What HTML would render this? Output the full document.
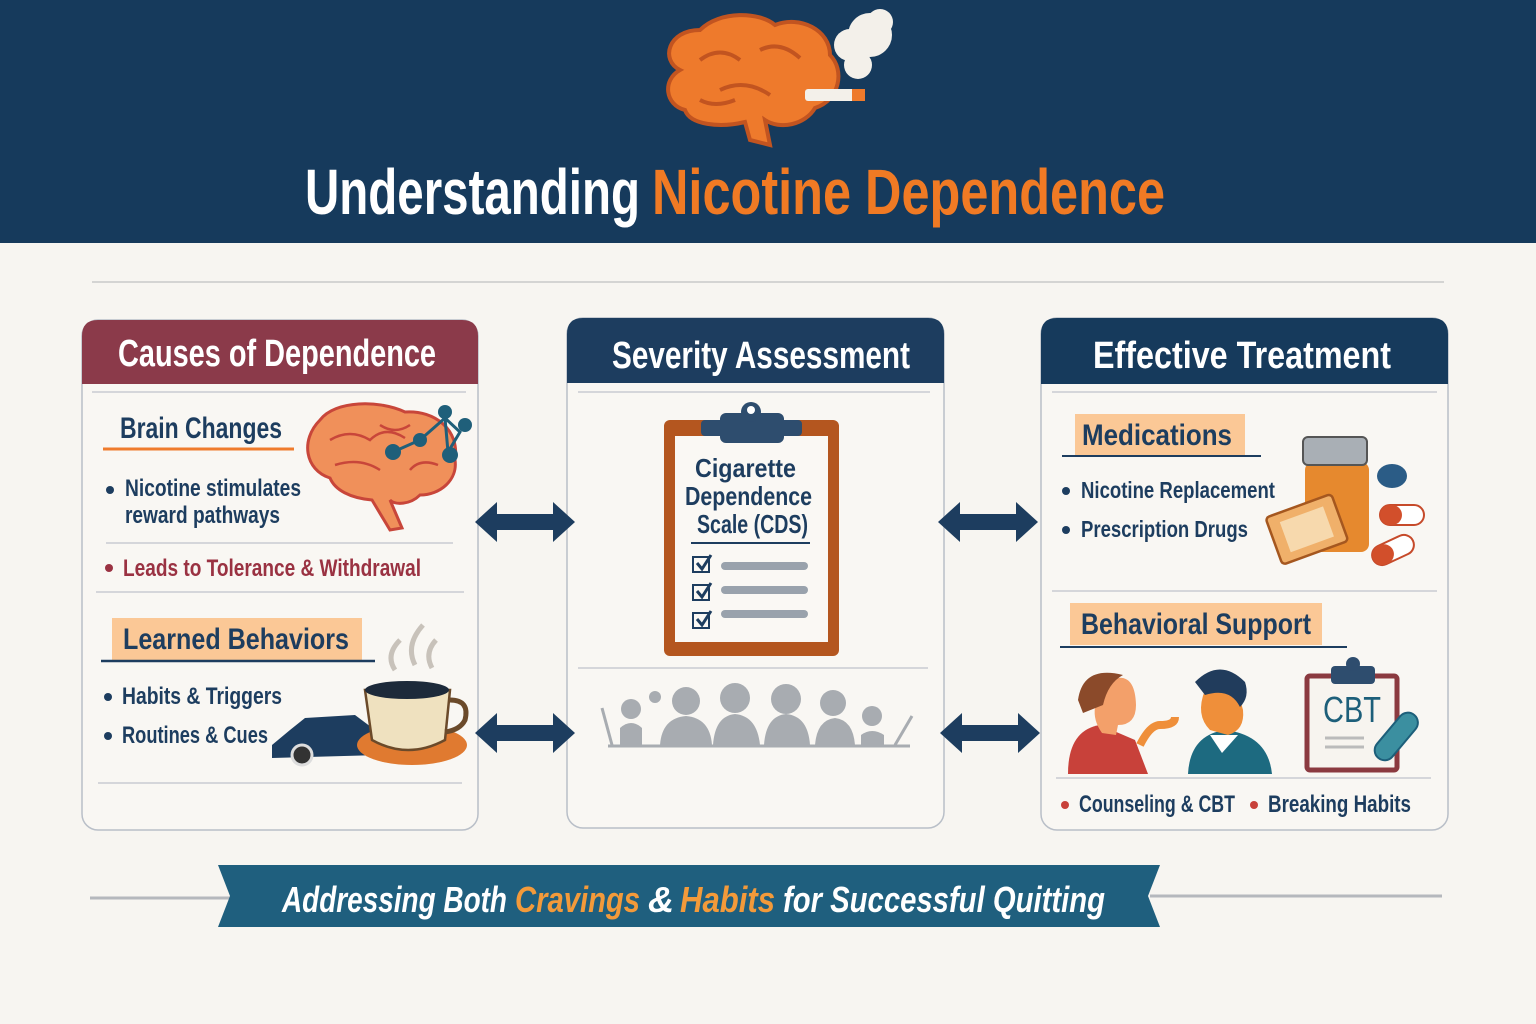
<!DOCTYPE html>
<html><head><meta charset="utf-8"><style>
html,body{margin:0;padding:0;background:#f7f5f1}
svg{display:block}
text{font-family:"Liberation Sans Narrow","Liberation Sans",sans-serif;font-weight:bold}
</style></head><body>
<svg width="1536" height="1024" viewBox="0 0 1536 1024" xmlns="http://www.w3.org/2000/svg">
<defs>
<path id="arr" d="M0 0 L22 -20 L22 -8 L78 -8 L78 -20 L100 0 L78 20 L78 8 L22 8 L22 20 Z" fill="#1d3d5f"/>
</defs>
<rect width="1536" height="1024" fill="#f7f5f1"/>
<rect width="1536" height="243" fill="#163a5c"/>
<!-- brain logo -->
<g>
<path d="M680 70 C660 60 668 30 700 30 C720 10 760 12 775 25 C800 15 830 30 830 55 C845 70 840 100 815 108 C805 125 780 130 765 120 L770 145 L750 140 L745 122 C720 128 690 125 685 110 C665 105 662 80 680 70 Z" fill="#ee7a2c" stroke="#c25420" stroke-width="4"/>
<path d="M700 60 q20 -15 40 0 M720 90 q25 -12 50 5 M760 50 q20 -10 40 8 M700 100 q15 8 35 0" stroke="#c25420" stroke-width="4" fill="none"/>
<rect x="805" y="89" width="60" height="12" rx="3" fill="#f3f0ea"/>
<rect x="852" y="89" width="13" height="12" fill="#ee7a2c"/>
<circle cx="858" cy="65" r="14" fill="#f3f0ea"/><circle cx="870" cy="35" r="22" fill="#f3f0ea"/><circle cx="850" cy="45" r="16" fill="#f3f0ea"/><circle cx="880" cy="22" r="13" fill="#f3f0ea"/>
</g>
<text x="305" y="214" font-size="64" fill="#fff" textLength="335" lengthAdjust="spacingAndGlyphs">Understanding</text>
<text x="652" y="214" font-size="64" fill="#f07a24" textLength="513" lengthAdjust="spacingAndGlyphs">Nicotine Dependence</text>
<line x1="92" y1="282" x2="1444" y2="282" stroke="#c9c9c9" stroke-width="1.5"/>

<!-- Left panel -->
<rect x="82" y="320" width="396" height="510" rx="16" fill="#f9f7f3" stroke="#b9bfc8" stroke-width="1.5"/>
<path d="M82 384 V336 Q82 320 98 320 H462 Q478 320 478 336 V384 Z" fill="#8b3a4a"/>
<text x="118" y="366" font-size="38" fill="#fff" textLength="318" lengthAdjust="spacingAndGlyphs">Causes of Dependence</text>
<line x1="92" y1="392" x2="466" y2="392" stroke="#c9ccd2" stroke-width="1.5"/>
<text x="120" y="438" font-size="30" fill="#1d3d5f" textLength="162" lengthAdjust="spacingAndGlyphs">Brain Changes</text>
<line x1="103" y1="449" x2="294" y2="449" stroke="#ef7b2c" stroke-width="3"/>
<g>
<path d="M320 420 C335 400 380 400 405 412 C435 410 460 430 455 460 C458 480 440 495 420 495 C410 505 395 505 390 500 L402 528 L390 530 L372 500 C350 498 335 490 330 478 C305 470 300 440 320 420 Z" fill="#f0905a" stroke="#c8463a" stroke-width="3"/>
<path d="M330 440 q20 -12 40 0 q15 -15 35 -2 M335 465 q25 -8 45 5 M380 425 q15 10 30 0 M410 470 q10 -12 28 -5" stroke="#c8463a" stroke-width="2.5" fill="none"/>
<path d="M393 452 L420 440 L445 418 L460 432 L448 452 L445 418" stroke="#1f5f7a" stroke-width="3" fill="none"/>
<circle cx="393" cy="452" r="8" fill="#1f5f7a"/><circle cx="420" cy="440" r="7" fill="#1f5f7a"/><circle cx="445" cy="412" r="7" fill="#1f5f7a"/><circle cx="465" cy="425" r="7" fill="#1f5f7a"/><circle cx="450" cy="455" r="8" fill="#1f5f7a"/>
</g>
<circle cx="110" cy="490" r="4" fill="#1d3d5f"/>
<text x="125" y="496" font-size="24" fill="#1d3d5f" textLength="176" lengthAdjust="spacingAndGlyphs">Nicotine stimulates</text>
<text x="125" y="523" font-size="24" fill="#1d3d5f" textLength="155" lengthAdjust="spacingAndGlyphs">reward pathways</text>
<line x1="106" y1="543" x2="453" y2="543" stroke="#c9ccd2" stroke-width="1.5"/>
<circle cx="109" cy="568" r="4" fill="#9a3242"/>
<text x="123" y="576" font-size="24" fill="#9a3242" textLength="298" lengthAdjust="spacingAndGlyphs">Leads to Tolerance &amp; Withdrawal</text>
<line x1="96" y1="592" x2="464" y2="592" stroke="#c9ccd2" stroke-width="1.5"/>
<rect x="112" y="618" width="250" height="42" fill="#fbc896"/>
<text x="123" y="649" font-size="30" fill="#1d3d5f" textLength="226" lengthAdjust="spacingAndGlyphs">Learned Behaviors</text>
<line x1="101" y1="661" x2="375" y2="661" stroke="#1d3d5f" stroke-width="2.5"/>
<circle cx="108" cy="697" r="4" fill="#1d3d5f"/>
<text x="122" y="704" font-size="24" fill="#1d3d5f" textLength="160" lengthAdjust="spacingAndGlyphs">Habits &amp; Triggers</text>
<circle cx="108" cy="736" r="4" fill="#1d3d5f"/>
<text x="122" y="743" font-size="24" fill="#1d3d5f" textLength="146" lengthAdjust="spacingAndGlyphs">Routines &amp; Cues</text>
<g>
<path d="M272 745 L290 730 L305 718 L355 715 L375 730 L380 755 L272 758 Z" fill="#1d3d5f"/>
<circle cx="302" cy="755" r="10" fill="#333" stroke="#ddd" stroke-width="3"/>
<ellipse cx="412" cy="745" rx="55" ry="20" fill="#e07a30"/>
<path d="M365 690 L450 690 L445 740 Q408 760 372 740 Z" fill="#efe1bf" stroke="#6b4a2a" stroke-width="2.5"/>
<ellipse cx="407" cy="690" rx="42" ry="9" fill="#1d2a3a"/>
<path d="M450 700 q20 0 15 20 q-5 10 -20 12" stroke="#6b4a2a" stroke-width="5" fill="none"/>
<path d="M395 670 q-10 -15 5 -30 M415 665 q-10 -20 8 -40 M432 668 q-8 -15 4 -28" stroke="#c8c2ba" stroke-width="5" fill="none"/>
</g>
<line x1="98" y1="783" x2="462" y2="783" stroke="#c9ccd2" stroke-width="1.5"/>

<!-- Middle panel -->
<rect x="567" y="318" width="377" height="510" rx="16" fill="#f9f7f3" stroke="#b9bfc8" stroke-width="1.5"/>
<path d="M567 383 V334 Q567 318 583 318 H928 Q944 318 944 334 V383 Z" fill="#1d3d5f"/>
<text x="612" y="368" font-size="38" fill="#fff" textLength="298" lengthAdjust="spacingAndGlyphs">Severity Assessment</text>
<line x1="578" y1="392" x2="930" y2="392" stroke="#c9ccd2" stroke-width="1.5"/>
<rect x="664" y="420" width="175" height="236" rx="6" fill="#b4561f"/>
<rect x="675" y="436" width="153" height="206" fill="#faf8f4"/>
<rect x="701" y="420" width="101" height="16" rx="4" fill="#2e4d6e"/>
<rect x="720" y="413" width="64" height="30" rx="6" fill="#2e4d6e"/>
<circle cx="751" cy="412" r="10" fill="#2e4d6e"/><circle cx="751" cy="410" r="4" fill="#fff"/>
<text x="695" y="477" font-size="26" fill="#1d3d5f" textLength="101" lengthAdjust="spacingAndGlyphs">Cigarette</text>
<text x="685" y="505" font-size="26" fill="#1d3d5f" textLength="127" lengthAdjust="spacingAndGlyphs">Dependence</text>
<text x="697" y="533" font-size="26" fill="#1d3d5f" textLength="111" lengthAdjust="spacingAndGlyphs">Scale (CDS)</text>
<line x1="691" y1="543" x2="810" y2="543" stroke="#1d3d5f" stroke-width="2"/>
<g fill="none" stroke="#1d3d5f" stroke-width="2">
<rect x="693" y="557" width="16" height="15"/><rect x="693" y="585" width="16" height="15"/><rect x="693" y="613" width="16" height="15"/>
<path d="M697 563 l5 6 l9 -14 M697 591 l5 6 l9 -14 M697 619 l5 6 l9 -14" stroke-width="3"/>
</g>
<g stroke="#99a2ac" stroke-width="8" stroke-linecap="round">
<line x1="725" y1="566" x2="804" y2="566"/><line x1="725" y1="590" x2="804" y2="590"/><line x1="725" y1="614" x2="804" y2="614"/>
</g>
<line x1="578" y1="668" x2="928" y2="668" stroke="#c9ccd2" stroke-width="1.5"/>
<g fill="#a8acb1">
<circle cx="631" cy="709" r="10"/><path d="M620 745 V728 Q631 718 642 728 V745 Z"/>
<circle cx="686" cy="701" r="14"/><path d="M660 745 Q662 718 686 716 Q710 718 712 745 Z"/>
<circle cx="735" cy="698" r="15"/><path d="M713 745 Q715 716 735 714 Q757 716 760 745 Z"/>
<circle cx="786" cy="699" r="15"/><path d="M764 745 Q766 716 786 714 Q808 716 810 745 Z"/>
<circle cx="833" cy="703" r="13"/><path d="M815 745 Q817 720 835 718 Q853 720 855 745 Z"/>
<circle cx="872" cy="716" r="10"/><path d="M861 745 V735 Q872 727 884 735 V745 Z"/>
<circle cx="655" cy="697" r="6"/>
</g>
<line x1="602" y1="708" x2="612" y2="745" stroke="#a8acb1" stroke-width="3"/>
<line x1="912" y1="716" x2="895" y2="745" stroke="#a8acb1" stroke-width="3"/>
<line x1="608" y1="746" x2="910" y2="746" stroke="#a8acb1" stroke-width="3"/>

<!-- Right panel -->
<rect x="1041" y="318" width="407" height="512" rx="16" fill="#f9f7f3" stroke="#b9bfc8" stroke-width="1.5"/>
<path d="M1041 384 V334 Q1041 318 1057 318 H1432 Q1448 318 1448 334 V384 Z" fill="#163a5c"/>
<text x="1093" y="368" font-size="38" fill="#fff" textLength="298" lengthAdjust="spacingAndGlyphs">Effective Treatment</text>
<line x1="1052" y1="392" x2="1437" y2="392" stroke="#c9ccd2" stroke-width="1.5"/>
<rect x="1075" y="414" width="170" height="42" fill="#fbc896"/>
<text x="1082" y="445" font-size="30" fill="#1d3d5f" textLength="150" lengthAdjust="spacingAndGlyphs">Medications</text>
<line x1="1062" y1="456" x2="1261" y2="456" stroke="#1d3d5f" stroke-width="2"/>
<circle cx="1066" cy="491" r="4" fill="#1d3d5f"/>
<text x="1081" y="498" font-size="23" fill="#1d3d5f" textLength="194" lengthAdjust="spacingAndGlyphs">Nicotine Replacement</text>
<circle cx="1066" cy="530" r="4" fill="#1d3d5f"/>
<text x="1081" y="537" font-size="23" fill="#1d3d5f" textLength="167" lengthAdjust="spacingAndGlyphs">Prescription Drugs</text>
<g>
<rect x="1305" y="462" width="64" height="90" rx="8" fill="#e6892e"/>
<rect x="1303" y="437" width="64" height="28" rx="5" fill="#a9afb5" stroke="#555" stroke-width="2"/>
<g transform="rotate(-20 1305 530)"><rect x="1272" y="505" width="70" height="50" rx="4" fill="#f0b06a" stroke="#a5571f" stroke-width="2.5"/><rect x="1284" y="514" width="46" height="32" fill="#f7d9ad"/></g>
<ellipse cx="1392" cy="476" rx="15" ry="12" fill="#2b5c86"/>
<rect x="1380" y="505" width="44" height="20" rx="10" fill="#fff" stroke="#c64a2a" stroke-width="2"/><rect x="1380" y="505" width="22" height="20" rx="10" fill="#d24f2b"/>
<g transform="rotate(-25 1393 550)"><rect x="1371" y="540" width="44" height="20" rx="10" fill="#fff" stroke="#c64a2a" stroke-width="2"/><rect x="1371" y="540" width="22" height="20" rx="10" fill="#d24f2b"/></g>
</g>
<line x1="1052" y1="591" x2="1437" y2="591" stroke="#c9ccd2" stroke-width="1.5"/>
<rect x="1070" y="603" width="252" height="42" fill="#fbc896"/>
<text x="1081" y="634" font-size="30" fill="#1d3d5f" textLength="230" lengthAdjust="spacingAndGlyphs">Behavioral Support</text>
<line x1="1060" y1="647" x2="1347" y2="647" stroke="#1d3d5f" stroke-width="2"/>
<g>
<path d="M1068 774 Q1068 730 1100 725 L1135 740 L1148 774 Z" fill="#c8413a"/>
<path d="M1110 680 q25 -10 26 25 q0 20 -18 20 l-2 10 l-14 -2 q-18 -25 8 -53z" fill="#f3a06a"/>
<path d="M1078 700 q5 -35 45 -25 q-15 8 -20 30 l-20 8z" fill="#8b4a2a"/>
<path d="M1140 745 q10 -20 20 -20 q15 0 15 -8" stroke="#ef8f3a" stroke-width="8" fill="none"/>
<path d="M1188 774 Q1190 735 1225 730 Q1268 735 1272 774 Z" fill="#1d6a80"/>
<path d="M1205 690 q30 -15 38 20 q2 20 -15 25 l-18 -5 q-15 -15 -5 -40z" fill="#ef8f3a"/>
<path d="M1195 682 q25 -25 50 0 q5 15 -5 25 q-10 -20 -35 -12z" fill="#213c5c"/>
<path d="M1210 735 l12 18 l16 -18" fill="#fff"/>
</g>
<rect x="1307" y="676" width="90" height="94" rx="3" fill="#f7f4ef" stroke="#8b3a40" stroke-width="5"/>
<rect x="1331" y="666" width="44" height="18" rx="4" fill="#2e4d6e"/><circle cx="1353" cy="664" r="7" fill="#2e4d6e"/>
<text x="1323" y="722" font-size="36" fill="#1d5f7a" textLength="58" lengthAdjust="spacingAndGlyphs" style="font-weight:normal">CBT</text>
<line x1="1325" y1="738" x2="1364" y2="738" stroke="#bbb" stroke-width="3"/><line x1="1325" y1="747" x2="1364" y2="747" stroke="#bbb" stroke-width="3"/>
<g transform="rotate(40 1395 738)"><rect x="1385" y="708" width="20" height="56" rx="10" fill="#3b8fa0" stroke="#1d5f7a" stroke-width="2"/></g>
<line x1="1056" y1="778" x2="1431" y2="778" stroke="#c9ccd2" stroke-width="1.5"/>
<circle cx="1065" cy="805" r="4" fill="#c8413a"/>
<text x="1079" y="812" font-size="24" fill="#1d3d5f" textLength="156" lengthAdjust="spacingAndGlyphs">Counseling &amp; CBT</text>
<circle cx="1254" cy="805" r="4" fill="#c8413a"/>
<text x="1268" y="812" font-size="24" fill="#1d3d5f" textLength="143" lengthAdjust="spacingAndGlyphs">Breaking Habits</text>

<!-- arrows -->
<use href="#arr" x="475" y="522"/>
<use href="#arr" x="475" y="733"/>
<use href="#arr" x="938" y="522"/>
<use href="#arr" x="940" y="733"/>

<!-- footer banner -->
<line x1="90" y1="898" x2="230" y2="898" stroke="#b5b8bd" stroke-width="3"/>
<line x1="1150" y1="896" x2="1442" y2="896" stroke="#b5b8bd" stroke-width="3"/>
<path d="M218 865 L1160 865 L1148 896 L1160 927 L218 927 L230 896 Z" fill="#1f5f7e"/>
<text x="282" y="912" font-size="36" font-style="italic" fill="#fff" textLength="225" lengthAdjust="spacingAndGlyphs">Addressing Both</text>
<text x="515" y="912" font-size="36" font-style="italic" fill="#f39a3a" textLength="125" lengthAdjust="spacingAndGlyphs">Cravings</text>
<text x="648" y="912" font-size="36" font-style="italic" fill="#fff">&amp;</text>
<text x="680" y="912" font-size="36" font-style="italic" fill="#f39a3a" textLength="95" lengthAdjust="spacingAndGlyphs">Habits</text>
<text x="783" y="912" font-size="36" font-style="italic" fill="#fff" textLength="322" lengthAdjust="spacingAndGlyphs">for Successful Quitting</text>
</svg>
</body></html>
